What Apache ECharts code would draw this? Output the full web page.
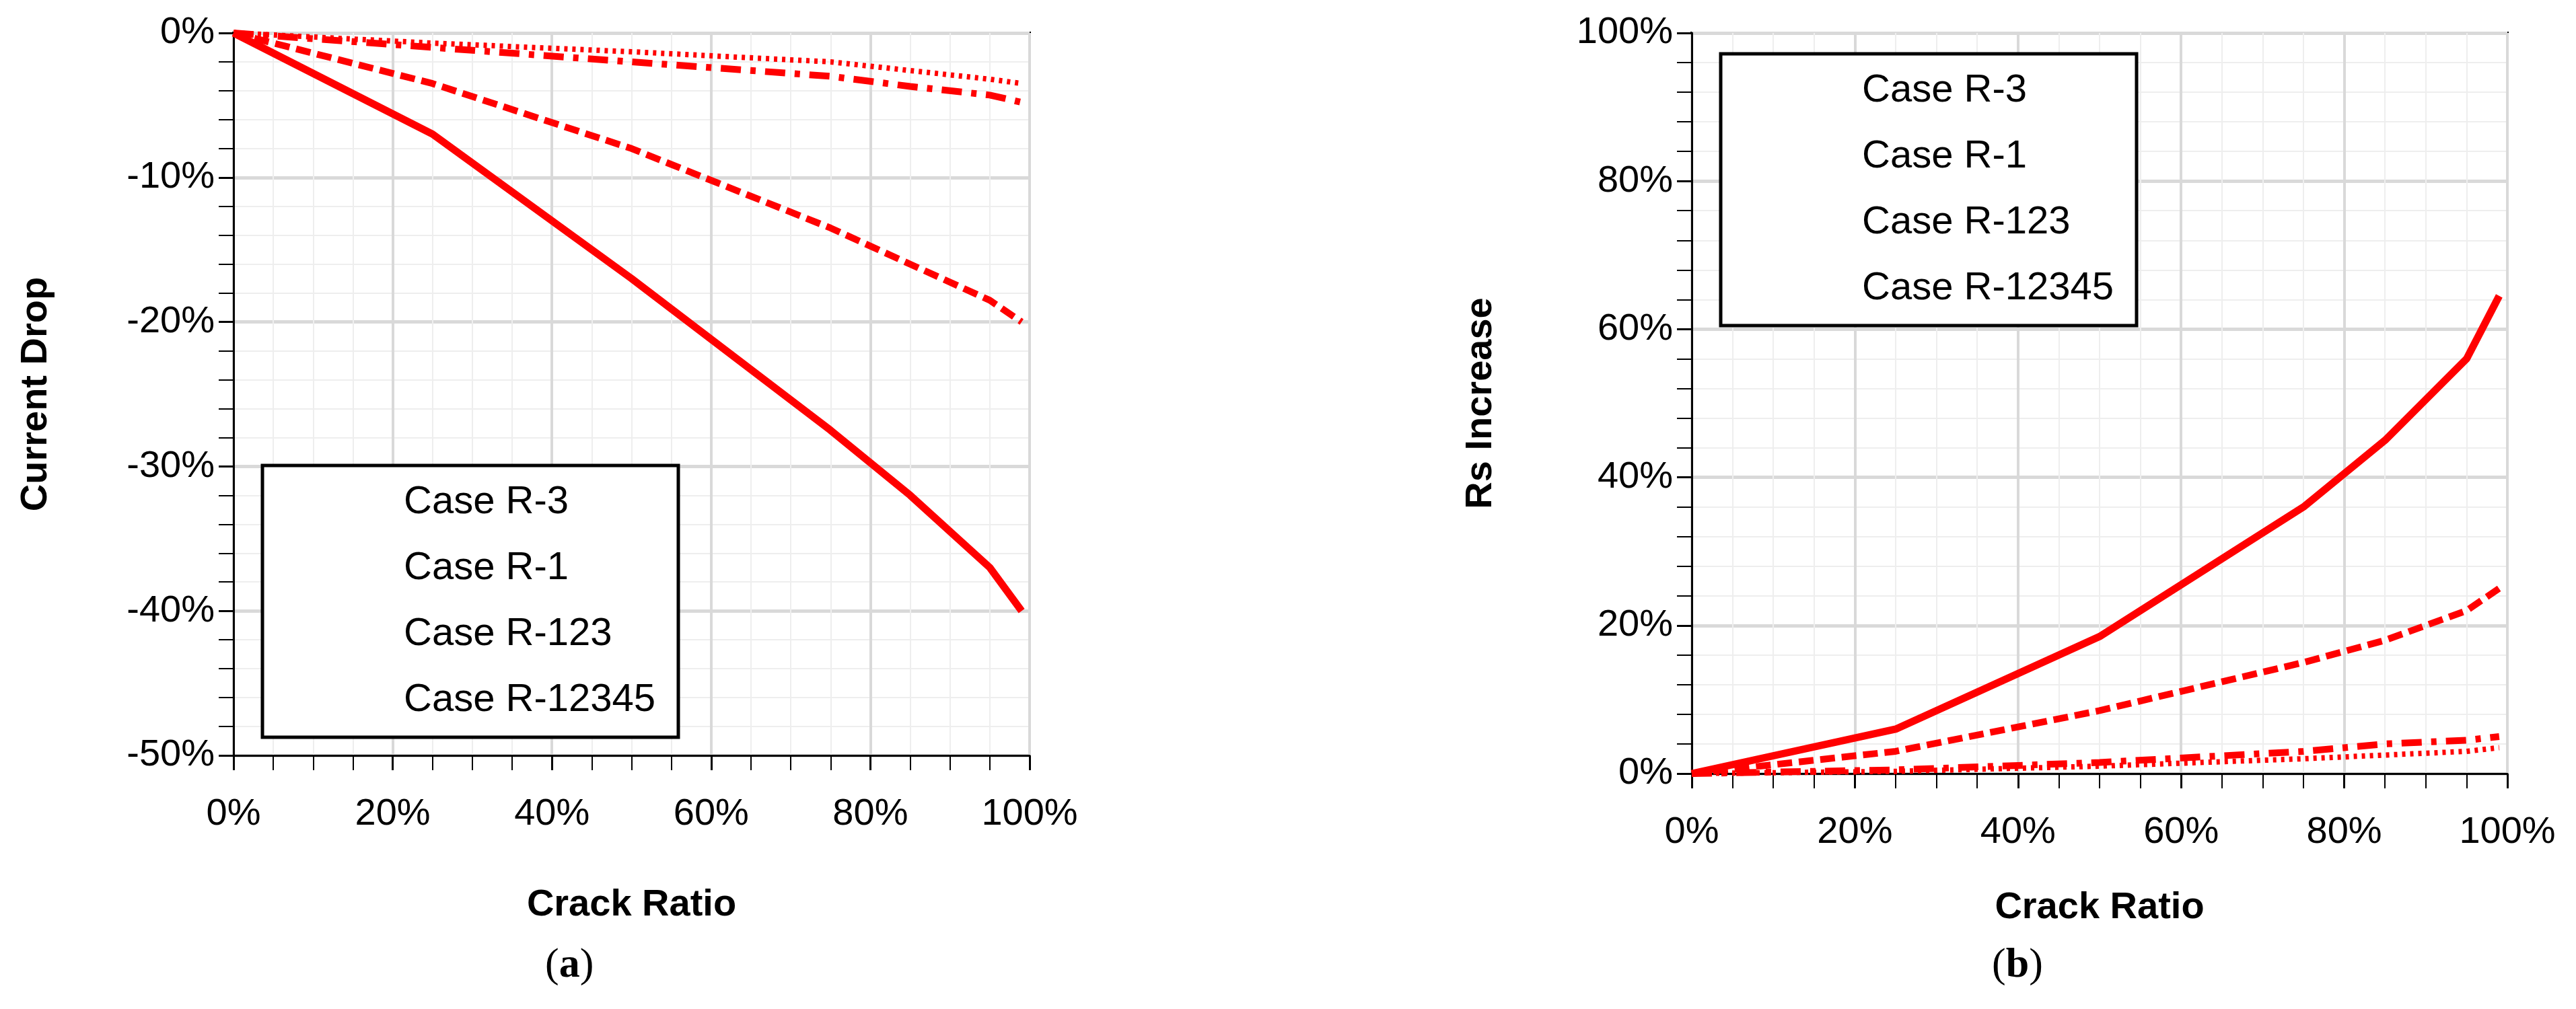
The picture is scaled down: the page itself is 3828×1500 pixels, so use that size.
<!DOCTYPE html>
<html><head><meta charset="utf-8">
<script src="https://cdn.jsdelivr.net/npm/echarts@6/dist/echarts.min.js"></script>
<style>html,body{margin:0;background:#fff}#c{width:3828px;height:1500px}</style>
</head><body><div id="c"></div>
<script>
const crack = [0, 25, 50, 75, 85, 95, 99];
const seriesNames = ['Case R-3', 'Case R-1', 'Case R-123', 'Case R-12345'];
const dropR3 = [0, -0.7, -1.3, -2.0, -2.6, -3.2, -3.5];
const dropR1 = [0, -1.0, -2.0, -3.0, -3.7, -4.3, -4.8];
const dropR123 = [0, -3.5, -8.0, -13.5, -16.0, -18.5, -20.0];
const dropR12345 = [0, -7.0, -17.0, -27.5, -32.0, -37.0, -40.0];
const rsR3 = [0, 0.3, 1.0, 2.0, 2.5, 3.0, 3.5];
const rsR1 = [0, 0.5, 1.5, 3.0, 4.0, 4.5, 5.0];
const rsR123 = [0, 3.0, 8.5, 15.0, 18.0, 22.0, 25.0];
const rsR12345 = [0, 6.0, 18.5, 36.0, 45.0, 56.0, 64.5];

const FONT = 'Liberation Sans';
const red = '#ff0000';
const styles = [
  {width: 8, type: [5, 7]},
  {width: 10, type: [30, 14, 8, 14]},
  {width: 10, type: [22, 10]},
  {width: 11, type: 'solid'}
];
const pairs = (ys) => crack.map((x, i) => [x, ys[i]]);
function mk(name, ys, k, idx) {
  return {name, type: 'line', xAxisIndex: idx, yAxisIndex: idx, data: pairs(ys),
    symbol: 'none', showSymbol: false, lineStyle: {color: red, width: styles[k].width, type: styles[k].type, cap: 'butt'},
    itemStyle: {color: red}};
}
const axisLbl = {fontFamily: FONT, fontSize: 56, color: '#000', formatter: v => v + '%'};
function xA(gi, gap) {
  return {type: 'value', gridIndex: gi, min: 0, max: 100, interval: 20,
    axisLine: {show: true, onZero: false, lineStyle: {color: '#000', width: 3}},
    axisTick: {show: true, length: 22, lineStyle: {color: '#000', width: 3}},
    minorTick: {show: true, splitNumber: 4, length: 22, lineStyle: {color: '#000', width: 2}},
    splitLine: {show: true, lineStyle: {color: '#d9d9d9', width: 4}},
    minorSplitLine: {show: true, lineStyle: {color: '#eeeeee', width: 2}},
    axisLabel: Object.assign({margin: 60}, axisLbl),
    name: 'Crack Ratio', nameLocation: 'middle', nameGap: gap,
    nameTextStyle: {fontFamily: FONT, fontSize: 56, fontWeight: 'bold', color: '#000'}};
}
function yA(gi, min, max, name, gap) {
  return {type: 'value', gridIndex: gi, min, max, interval: 10 * (max - min) / 50,
    axisLine: {show: true, onZero: false, lineStyle: {color: '#000', width: 3}},
    axisTick: {show: true, length: 22, lineStyle: {color: '#000', width: 3}},
    minorTick: {show: true, splitNumber: 5, length: 22, lineStyle: {color: '#000', width: 2}},
    splitLine: {show: true, lineStyle: {color: '#d9d9d9', width: 5}},
    minorSplitLine: {show: true, lineStyle: {color: '#eeeeee', width: 2}},
    axisLabel: Object.assign({margin: 28}, axisLbl),
    name, nameLocation: 'middle', nameGap: gap,
    nameTextStyle: {fontFamily: FONT, fontSize: 56, fontWeight: 'bold', color: '#000'}};
}
function legend(left, top) {
  return {data: seriesNames.map((n, k) => ({name: n, icon: 'rect',
      itemStyle: {opacity: 0},
      lineStyle: {color: red, width: styles[k].width + 2, type: styles[k].type, cap: 'butt'}})),
    orient: 'vertical', left, top,
    backgroundColor: '#fff', borderColor: '#000', borderWidth: 5, padding: [26, 34, 26, 30],
    itemWidth: 175, itemHeight: 30, itemGap: 40,
    textStyle: {fontFamily: FONT, fontSize: 58, color: '#000'},
    selectedMode: false};
}
const chart = echarts.init(document.getElementById('c'));
chart.setOption({
  animation: false,
  backgroundColor: '#fff',
  grid: [
    {left: 347, top: 49, width: 1183, height: 1074, show: true, borderColor: '#000', borderWidth: 4, backgroundColor: 'transparent'},
    {left: 2514, top: 49, width: 1212, height: 1101, show: true, borderColor: '#000', borderWidth: 4, backgroundColor: 'transparent'}
  ],
  xAxis: [xA(0, 195), xA(1, 172)],
  yAxis: [yA(0, -50, 0, 'Current Drop', 265), yA(1, 0, 100, 'Rs Increase', 285)],
  legend: [legend(390, 692), legend(2557, 80)],
  series: [
    mk('Case R-3', dropR3, 0, 0), mk('Case R-1', dropR1, 1, 0), mk('Case R-123', dropR123, 2, 0), mk('Case R-12345', dropR12345, 3, 0),
    mk('Case R-3', rsR3, 0, 1), mk('Case R-1', rsR1, 1, 1), mk('Case R-123', rsR123, 2, 1), mk('Case R-12345', rsR12345, 3, 1)
  ],
  graphic: [
    {type: 'text', left: 810, top: 1405, style: {rich: {p: {font: '62px "Liberation Serif"', fill: '#000'}, b: {font: 'bold 62px "Liberation Serif"', fill: '#000'}}, text: '{p|(}{b|a}{p|)}'}},
    {type: 'text', left: 2960, top: 1405, style: {rich: {p: {font: '62px "Liberation Serif"', fill: '#000'}, b: {font: 'bold 62px "Liberation Serif"', fill: '#000'}}, text: '{p|(}{b|b}{p|)}'}}
  ]
});
</script></body></html>
